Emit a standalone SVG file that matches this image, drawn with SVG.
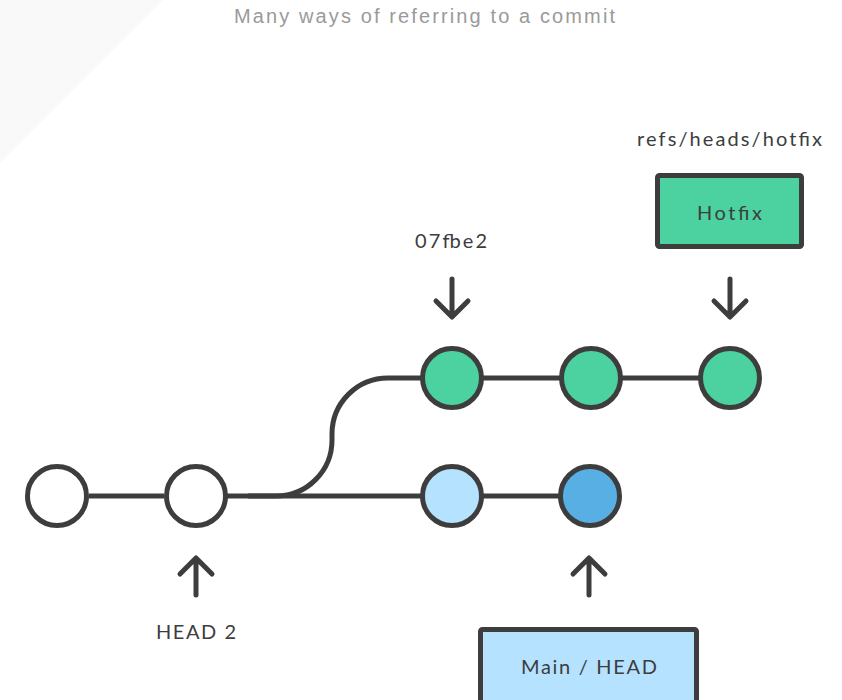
<svg xmlns="http://www.w3.org/2000/svg" width="842" height="700" viewBox="0 0 842 700">
<style>
.c{stroke:#3d3d3d;stroke-width:5}
.ln{stroke:#3d3d3d;stroke-width:5;fill:none}
.ar{stroke:#3d3d3d;stroke-width:5;fill:none;stroke-linecap:round;stroke-linejoin:round}
.t{font-family:"Lato","Liberation Sans",sans-serif;fill:#3d3d3d;font-size:20px}
.title{font-family:"Liberation Sans",sans-serif;fill:#9a9a9a;font-size:20px}
.green{fill:#4cd2a0}
.white{fill:#ffffff}
.lblue{fill:#b5e2ff}
.dblue{fill:#58afe4}
</style>
<rect width="842" height="700" fill="#ffffff"/>
<polygon points="0,0 163,0 0,163" fill="#f9f9f9"/>
<text class="title" x="234" y="23" textLength="381">Many ways of referring to a commit</text>
<g id="connectors">
<line class="ln" x1="89" y1="496" x2="164" y2="496"/>
<line class="ln" x1="227" y1="496" x2="421" y2="496"/>
<line class="ln" x1="482" y1="496" x2="559" y2="496"/>
<path class="ln" d="M248 496 H276 C307 496 332 471 332 440 V434 C332 403 357 378 388 378 H421"/>
<line class="ln" x1="482" y1="378" x2="560" y2="378"/>
<line class="ln" x1="621" y1="378" x2="699" y2="378"/>
<path class="ar" d="M452 279 V316 M436 301 L452 317 L468 301"/>
<path class="ar" d="M730 279 V316 M714 301 L730 317 L746 301"/>
<path class="ar" d="M196 595 V559 M180 574 L196 558 L212 574"/>
<path class="ar" d="M589 595 V559 M573 574 L589 558 L605 574"/>
</g>
<g id="c1"><circle class="c white" cx="57" cy="496" r="29.5"/></g>
<g id="c2"><circle class="c white" cx="196" cy="496" r="29.5"/></g>
<g id="c3"><circle class="c lblue" cx="452" cy="496" r="29.5"/></g>
<g id="c4"><circle class="c dblue" cx="590" cy="496" r="29.5"/></g>
<g id="c5"><circle class="c green" cx="452" cy="378" r="29.5"/></g>
<g id="c6"><circle class="c green" cx="591" cy="378" r="29.5"/></g>
<g id="c7"><circle class="c green" cx="730" cy="378" r="29.5"/></g>
<g id="hotfix">
<rect class="c green" x="657.5" y="175.5" width="144" height="71" rx="2"/>
<text class="t" x="697" y="220" textLength="65">Hotfix</text>
</g>
<g id="main">
<rect class="c lblue" x="480.5" y="629.5" width="216" height="80" rx="2"/>
<text class="t" x="521" y="674" textLength="136">Main  / HEAD</text>
</g>
<g id="labels">
<text class="t" x="637" y="146" textLength="185">refs/heads/hotfix</text>
<text class="t" x="415" y="248" textLength="72">07fbe2</text>
<text class="t" x="156" y="639" textLength="80">HEAD 2</text>
</g>
</svg>
